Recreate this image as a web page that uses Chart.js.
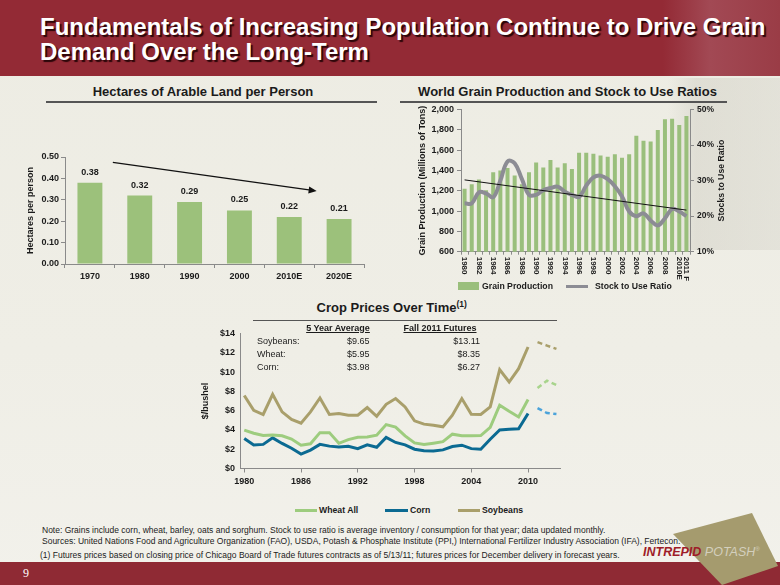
<!DOCTYPE html>
<html>
<head>
<meta charset="utf-8">
<script src="https://cdn.jsdelivr.net/npm/chart.js@4.4.1/dist/chart.umd.min.js"></script>
<style>
  html, body { margin:0; padding:0; }
  body { width:780px; height:585px; position:relative; overflow:hidden;
    background: linear-gradient(180deg, #EDECE3 0%, #EFEEE6 60%, #F2F1EB 100%);
    font-family: "Liberation Sans", Arial, Helvetica, sans-serif; color:#1b1b1b; }
  .abs { position:absolute; white-space:nowrap; }
  #header { left:0; top:0; width:780px; height:76px;
    background: linear-gradient(90deg,#932A35 0%,#932A35 85%,#A24954 91%,#9A3C46 100%); }
  #headline { left:40px; top:13.8px; color:#fff; font-weight:bold; font-size:24px; line-height:25px;
    text-shadow: 2px 2px 1px #2b0609; }
  .sec { font-size:13px; font-weight:bold; line-height:14px; text-align:center; }
  .rule { height:1.5px; background:#555; }
  canvas { position:absolute; }
  .leg { font-size:8.7px; font-weight:bold; line-height:10px; }
  .tbl { font-size:9px; line-height:11px; }
  .tblh { font-size:9px; font-weight:bold; line-height:11px; text-decoration:underline; text-align:center; }
  .note { font-size:8.5px; line-height:10px; color:#1b1b1b; }
  #watermark { left:668px; top:78px; width:112px; height:172px;
    background: linear-gradient(90deg, rgba(190,188,176,0) 0%, rgba(190,188,176,0.30) 25%, rgba(200,198,188,0.28) 100%); }
</style>
</head>
<body>
<div id="header" class="abs"></div>
<div id="headline" class="abs">Fundamentals of Increasing Population Continue to Drive Grain<br>Demand Over the Long-Term</div>
<div id="watermark" class="abs"></div>

<div class="abs sec" style="left:43px; top:84.5px; width:320px;">Hectares of Arable Land per Person</div>
<div class="abs rule" style="left:46px; top:101px; width:331px;"></div>
<div class="abs sec" style="left:407.5px; top:84.5px; width:320px;">World Grain Production and Stock to Use Ratios</div>
<div class="abs rule" style="left:400px; top:101px; width:327px;"></div>
<div class="abs sec" style="left:241.7px; top:301px; width:300px;">Crop Prices Over Time<span style="font-size:8.5px; position:relative; top:-5px;">(1)</span></div>
<div class="abs rule" style="left:253px; top:319.5px; width:304px;"></div>

<canvas id="landChart" width="390" height="150" style="left:0px; top:140px;"></canvas>
<canvas id="grainChart" width="330" height="195" style="left:400px; top:100px;"></canvas>
<canvas id="cropChart" width="380" height="175" style="left:190px; top:320px;"></canvas>

<div id="grainLegend"></div>
<div id="cropLegend"></div>
<div id="priceTable"></div>

<div class="abs note" style="left:42px; top:525px;">Note: Grains include corn, wheat, barley, oats and sorghum. Stock to use ratio is average inventory / consumption for that year; data updated monthly.</div>
<div class="abs note" style="left:42px; top:536px;">Sources: United Nations Food and Agriculture Organization (FAO), USDA, Potash &amp; Phosphate Institute (PPI,) International Fertilizer Industry Association (IFA), Fertecon.</div>
<div class="abs note" style="left:40px; top:550px;">(1) Futures prices based on closing price of Chicago Board of Trade futures contracts as of 5/13/11; futures prices for December delivery in forecast years.</div>

<div class="abs" style="left:0; top:562px; width:780px; height:23px; background:#8F2A34;"></div>
<div class="abs" style="left:23px; top:566px; color:#fff; font-family:'Liberation Serif','Times New Roman',serif; font-size:12px; line-height:14px;">9</div>
<svg class="abs" style="left:640px; top:505px;" width="140" height="80">
  <polygon points="33,29 112,8 138,61 82,80" fill="#A59B6E"/>
</svg>
<div class="abs" style="left:643px; top:545px; font-size:12.5px; line-height:14px; font-style:italic;">
  <span style="color:#9E1C28; font-weight:bold;">INTREPID</span> <span style="color:#D3CFBD;">POTASH</span><span style="color:#D3CFBD; font-size:6px; position:relative; top:-5px;">®</span>
</div>

<script>
// ---------------- DATA ----------------
const landYears = ['1970', '1980', '1990', '2000', '2010E', '2020E'];
const landHectares = [0.38, 0.32, 0.29, 0.25, 0.22, 0.21];
const landTrendArrow = [[0.46, 0.475], [4.55, 0.341]]; // [category index, hectares] start -> end

const grainYears = ['1980','1981','1982','1983','1984','1985','1986','1987','1988','1989',
  '1990','1991','1992','1993','1994','1995','1996','1997','1998','1999',
  '2000','2001','2002','2003','2004','2005','2006','2007','2008','2009','2010E','2011 F'];
const grainProduction = [1220, 1265, 1310, 1206, 1382, 1400, 1425, 1349, 1265, 1382,
  1479, 1430, 1502, 1430, 1472, 1413, 1574, 1574, 1565, 1548,
  1535, 1560, 1526, 1560, 1742, 1692, 1686, 1798, 1903, 1909, 1847, 1936];
const stockToUse = [23.6, 23.6, 26.7, 26.4, 25.3, 30.0, 35.4, 34.9, 30.5, 26.0,
  26.0, 27.3, 27.9, 28.3, 26.9, 26.0, 25.4, 28.6, 30.9, 31.4,
  30.4, 28.4, 25.5, 21.3, 20.0, 20.8, 18.8, 17.4, 19.4, 22.0, 21.3, 20.0];
const stockTrendEnds = [30.2, 21.7];

const priceYears = [1980,1981,1982,1983,1984,1985,1986,1987,1988,1989,1990,1991,1992,1993,1994,
  1995,1996,1997,1998,1999,2000,2001,2002,2003,2004,2005,2006,2007,2008,2009,2010];
const wheatAll = [3.98, 3.66, 3.42, 3.48, 3.40, 3.06, 2.42, 2.56, 3.72, 3.72, 2.61, 3.00, 3.24, 3.26, 3.45,
  4.55, 4.30, 3.38, 2.65, 2.48, 2.62, 2.78, 3.56, 3.40, 3.40, 3.42, 4.26, 6.56, 5.94, 5.35, 7.15];
const corn = [3.12, 2.45, 2.50, 3.18, 2.60, 2.10, 1.50, 1.91, 2.50, 2.32, 2.24, 2.30, 2.05, 2.45, 2.20,
  3.22, 2.70, 2.45, 2.00, 1.84, 1.82, 1.93, 2.28, 2.42, 2.06, 2.00, 3.04, 4.00, 4.06, 4.12, 5.70];
const soybeans = [7.57, 6.04, 5.60, 7.70, 5.87, 5.08, 4.70, 5.87, 7.31, 5.60, 5.70, 5.53, 5.53, 6.32, 5.42,
  6.66, 7.25, 6.38, 4.94, 4.60, 4.49, 4.32, 5.53, 7.25, 5.63, 5.60, 6.38, 10.25, 8.97, 10.35, 12.60];
const futureYears = [2011, 2012, 2013];
const wheatFutures = [8.35, 9.10, 8.65];
const cornFutures = [6.27, 5.75, 5.65];
const soybeanFutures = [13.11, 12.75, 12.40];

const tableCrops = ['Soybeans:', 'Wheat:', 'Corn:'];
const fiveYearAverage = ['$9.65', '$5.95', '$3.98'];
const fall2011Futures = ['$13.11', '$8.35', '$6.27'];

// ---------------- STYLE ----------------
const FONT = '"Liberation Sans", Arial, Helvetica, sans-serif';
const INK = '#1b1b1b';
const AXIS = '#8a8a8a';
const BAR_GREEN = '#9CC17B';
const GRAIN_GREEN = '#9ABF7C';
const STOCK_GRAY = '#8C8C94';
const WHEAT = '#9DCC7E', CORN = '#0B6A92', SOY = '#A99F6B';
const WHEAT_F = '#A8D48C', CORN_F = '#4BA3DA', SOY_F = '#A99F6B';

Chart.defaults.font.family = FONT;
Chart.defaults.color = INK;
Chart.defaults.animation = false;
Chart.defaults.responsive = false;
Chart.defaults.devicePixelRatio = 1;
Chart.defaults.plugins.legend.display = false;
Chart.defaults.plugins.tooltip.enabled = false;

// ---------------- LEFT: land per person ----------------
const barValueLabels = {
  id: 'barValueLabels',
  afterDatasetsDraw(chart) {
    const ctx = chart.ctx;
    const ds = chart.data.datasets[0];
    ctx.save();
    ctx.font = 'bold 9px ' + FONT;
    ctx.fillStyle = INK;
    ctx.textAlign = 'center';
    ctx.textBaseline = 'middle';
    chart.getDatasetMeta(0).data.forEach((bar, i) => {
      ctx.fillText(ds.data[i].toFixed(2), bar.x, bar.y - 10.5);
    });
    ctx.restore();
  }
};
const trendArrowPlugin = {
  id: 'trendArrow',
  afterDatasetsDraw(chart) {
    const {ctx, scales: {x, y}} = chart;
    const [a, b] = landTrendArrow;
    const x1 = x.getPixelForValue(a[0]), y1 = y.getPixelForValue(a[1]);
    const x2 = x.getPixelForValue(b[0]), y2 = y.getPixelForValue(b[1]);
    const ang = Math.atan2(y2 - y1, x2 - x1);
    ctx.save();
    ctx.strokeStyle = '#111'; ctx.fillStyle = '#111'; ctx.lineWidth = 1.3;
    ctx.beginPath();
    ctx.moveTo(x1, y1);
    ctx.lineTo(x2 - 6 * Math.cos(ang), y2 - 6 * Math.sin(ang));
    ctx.stroke();
    ctx.beginPath();
    ctx.moveTo(x2, y2);
    ctx.lineTo(x2 - 8 * Math.cos(ang) + 3.5 * Math.sin(ang), y2 - 8 * Math.sin(ang) - 3.5 * Math.cos(ang));
    ctx.lineTo(x2 - 8 * Math.cos(ang) - 3.5 * Math.sin(ang), y2 - 8 * Math.sin(ang) + 3.5 * Math.cos(ang));
    ctx.closePath();
    ctx.fill();
    ctx.restore();
  }
};

new Chart(document.getElementById('landChart'), {
  type: 'bar',
  data: {
    labels: landYears,
    datasets: [{ data: landHectares, backgroundColor: BAR_GREEN, barPercentage: 0.5, categoryPercentage: 1 }]
  },
  options: {
    layout: { padding: { left: 0, right: 26, top: 17, bottom: 0 } },
    scales: {
      x: {
        grid: { drawOnChartArea: false, drawTicks: true, tickLength: 4, color: AXIS },
        border: { color: AXIS },
        ticks: { font: { size: 9, weight: 'bold' }, color: INK, padding: 3, maxRotation: 0 },
        afterFit(s) { s.height = 26; }
      },
      y: {
        min: 0, max: 0.5,
        ticks: { stepSize: 0.1, callback: v => v.toFixed(2), font: { size: 9, weight: 'bold' }, color: INK, padding: 2 },
        grid: { drawOnChartArea: false, drawTicks: true, tickLength: 4, color: AXIS },
        border: { color: AXIS },
        title: { display: true, text: 'Hectares per person', font: { size: 9, weight: 'bold' }, color: INK, padding: { top: 25, bottom: 0 } },
        afterFit(s) { s.width = 65; }
      }
    }
  },
  plugins: [barValueLabels, trendArrowPlugin]
});

// ---------------- RIGHT: grain production & stock to use ----------------
const grainExtras = {
  id: 'grainExtras',
  afterDraw(chart) {
    const {ctx, scales: {x, y1}} = chart;
    const labels = chart.data.labels;
    ctx.save();
    ctx.font = 'bold 8px ' + FONT;
    ctx.fillStyle = INK;
    ctx.textAlign = 'left';
    ctx.textBaseline = 'middle';
    labels.forEach((lab, i) => {
      if (i % 2 !== 0 && i !== labels.length - 1) return;
      ctx.save();
      ctx.translate(x.getPixelForValue(i), x.top + 5);
      ctx.rotate(Math.PI / 2);
      ctx.fillText(lab, 0, 0);
      ctx.restore();
    });
    ctx.font = 'bold 8.7px ' + FONT;
    ctx.textAlign = 'center';
    ctx.save();
    ctx.translate(y1.left + 31.7, (chart.chartArea.top + chart.chartArea.bottom) / 2);
    ctx.rotate(-Math.PI / 2);
    ctx.fillText('Stocks to Use Ratio', 0, 0);
    ctx.restore();
    ctx.restore();
  }
};

const lastIdx = grainYears.length - 1;
new Chart(document.getElementById('grainChart'), {
  type: 'bar',
  data: {
    labels: grainYears,
    datasets: [
      { type: 'line', label: 'Trend', yAxisID: 'y1', order: 0,
        data: grainYears.map((_, i) => i === 0 ? stockTrendEnds[0] : (i === lastIdx ? stockTrendEnds[1] : null)),
        spanGaps: true, borderColor: '#111', borderWidth: 1, pointRadius: 0, tension: 0 },
      { type: 'line', label: 'Stock to Use Ratio', yAxisID: 'y1', order: 1,
        data: stockToUse, borderColor: STOCK_GRAY, borderWidth: 4, pointRadius: 0, tension: 0.4,
        cubicInterpolationMode: 'default' },
      { type: 'bar', label: 'Grain Production', yAxisID: 'y', order: 2,
        data: grainProduction, backgroundColor: GRAIN_GREEN, barPercentage: 0.56, categoryPercentage: 1 }
    ]
  },
  options: {
    layout: { padding: { left: 0, right: 0, top: 9.5, bottom: 0 } },
    scales: {
      x: {
        grid: { drawOnChartArea: false, drawTicks: true, tickLength: 3, color: AXIS },
        border: { color: AXIS },
        ticks: { display: false, autoSkip: false },
        afterFit(s) { s.height = 43.3; }
      },
      y: {
        position: 'left', min: 600, max: 2000,
        ticks: { stepSize: 200, font: { size: 9, weight: 'bold' }, color: INK, padding: 3 },
        grid: { drawOnChartArea: false, drawTicks: true, tickLength: 4, color: AXIS },
        border: { color: AXIS },
        title: { display: true, text: 'Grain Production (Millions of Tons)', font: { size: 9, weight: 'bold' }, color: INK, padding: { top: 17.5, bottom: 0 } },
        afterFit(s) { s.width = 61; }
      },
      y1: {
        position: 'right', min: 10, max: 50,
        ticks: { stepSize: 10, callback: v => v + '%', font: { size: 8.5, weight: 'bold' }, color: INK, padding: 3 },
        grid: { drawOnChartArea: false, drawTicks: true, tickLength: 4, color: AXIS },
        border: { color: AXIS },
        afterFit(s) { s.width = 40; }
      }
    }
  },
  plugins: [grainExtras]
});

document.getElementById('grainLegend').innerHTML =
  '<div class="abs" style="left:458px; top:282px; width:21px; height:7.5px; background:' + GRAIN_GREEN + ';"></div>' +
  '<div class="abs leg" style="left:482px; top:281px;">Grain Production</div>' +
  '<div class="abs" style="left:566px; top:284.5px; width:22px; height:3px; background:' + STOCK_GRAY + ';"></div>' +
  '<div class="abs leg" style="left:595px; top:281px;">Stock to Use Ratio</div>';

// ---------------- BOTTOM: crop prices ----------------
const pts = (xs, ys) => xs.map((xv, i) => ({ x: xv, y: ys[i] }));
new Chart(document.getElementById('cropChart'), {
  type: 'line',
  data: {
    datasets: [
      { label: 'Wheat All', data: pts(priceYears, wheatAll), borderColor: WHEAT, borderWidth: 3, pointRadius: 0, tension: 0 },
      { label: 'Corn', data: pts(priceYears, corn), borderColor: CORN, borderWidth: 3, pointRadius: 0, tension: 0 },
      { label: 'Soybeans', data: pts(priceYears, soybeans), borderColor: SOY, borderWidth: 3, pointRadius: 0, tension: 0 },
      { label: 'Wheat futures', data: pts(futureYears, wheatFutures), borderColor: WHEAT_F, borderWidth: 2.5, borderDash: [5, 3.5], pointRadius: 0 },
      { label: 'Corn futures', data: pts(futureYears, cornFutures), borderColor: CORN_F, borderWidth: 2.5, borderDash: [5, 3.5], pointRadius: 0 },
      { label: 'Soybean futures', data: pts(futureYears, soybeanFutures), borderColor: SOY_F, borderWidth: 2.5, borderDash: [5, 3.5], pointRadius: 0 }
    ]
  },
  options: {
    layout: { padding: { left: 0, right: 9.3, top: 13.5, bottom: 0 } },
    scales: {
      x: {
        type: 'linear', min: 1979.55, max: 2013.45,
        ticks: { stepSize: 6, includeBounds: false, callback: v => String(v), font: { size: 9, weight: 'bold' }, color: INK, padding: 4, maxRotation: 0 },
        grid: { drawOnChartArea: false, drawTicks: true, tickLength: 4, color: AXIS },
        border: { color: AXIS },
        afterFit(s) { s.height = 26.5; }
      },
      y: {
        min: 0, max: 14,
        ticks: { stepSize: 2, callback: v => '$' + v, font: { size: 9, weight: 'bold' }, color: INK, padding: 5 },
        grid: { drawOnChartArea: false, drawTicks: false, color: AXIS },
        border: { color: AXIS },
        title: { display: true, text: '$/bushel', font: { size: 9, weight: 'bold' }, color: INK, padding: { top: 10, bottom: 0 } },
        afterFit(s) { s.width = 50; }
      }
    }
  }
});

document.getElementById('cropLegend').innerHTML =
  '<div class="abs" style="left:295px; top:508.5px; width:22px; height:3px; background:' + WHEAT + ';"></div>' +
  '<div class="abs leg" style="left:319px; top:505px;">Wheat All</div>' +
  '<div class="abs" style="left:385px; top:508.5px; width:23px; height:3px; background:' + CORN + ';"></div>' +
  '<div class="abs leg" style="left:410px; top:505px;">Corn</div>' +
  '<div class="abs" style="left:458px; top:508.5px; width:22px; height:3px; background:' + SOY + ';"></div>' +
  '<div class="abs leg" style="left:482px; top:505px;">Soybeans</div>';

let tbl = '<div class="abs tblh" style="left:298px; top:322.5px; width:80px;">5 Year Average</div>' +
          '<div class="abs tblh" style="left:398px; top:322.5px; width:84px;">Fall 2011 Futures</div>';
const rowTops = [336.2, 348.8, 362];
tableCrops.forEach((c, i) => {
  tbl += '<div class="abs tbl" style="left:257px; top:' + rowTops[i] + 'px;">' + c + '</div>' +
         '<div class="abs tbl" style="left:347px; top:' + rowTops[i] + 'px;">' + fiveYearAverage[i] + '</div>' +
         '<div class="abs tbl" style="left:430px; width:50px; text-align:right; top:' + rowTops[i] + 'px;">' + fall2011Futures[i] + '</div>';
});
document.getElementById('priceTable').innerHTML = tbl;
</script>
</body>
</html>
